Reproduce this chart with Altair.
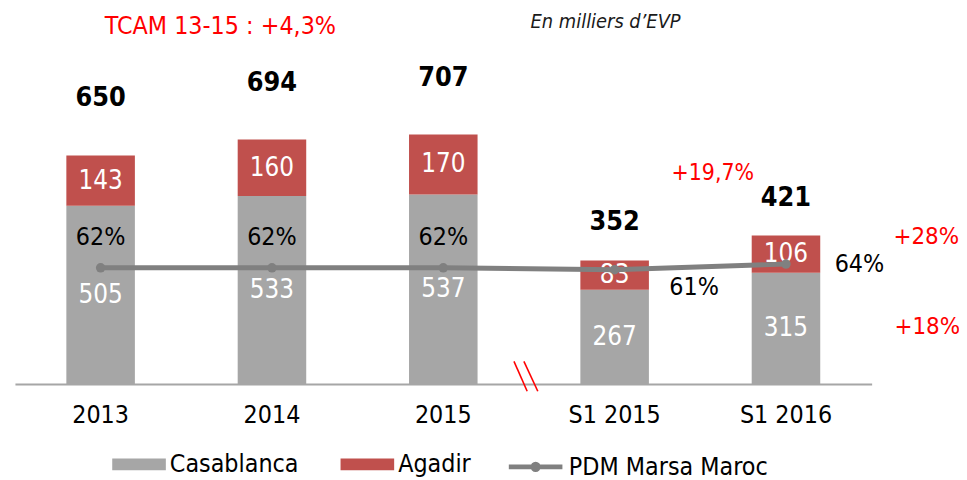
import altair as alt
import pandas as pd

# ---------------- data ----------------
periods = ["2013", "2014", "2015", "S1 2015", "S1 2016"]
casablanca = [505, 533, 537, 267, 315]
agadir = [143, 160, 170, 83, 106]
totals = [650, 694, 707, 352, 421]
pdm_share = [62, 62, 62, 61, 64]
pdm_labels = ["62%", "62%", "62%", "61%", "64%"]
period_kind = ["annuel", "annuel", "annuel", "semestre", "semestre"]

bar_series = ["Casablanca", "Agadir"]
bar_colors = ["#a6a6a6", "#c0504d"]
line_series = ["PDM Marsa Maroc"]
line_colors = ["#808080"]

title_tcam = "TCAM 13-15 : +4,3%"
unit_note = "En milliers d\u2019EVP"
growth_total = "+19,7%"
growth_agadir = "+28%"
growth_casa = "+18%"

FONT = "DejaVu Sans Condensed"

# ---------------- tables ----------------
rows = []
for p, c, a in zip(periods, casablanca, agadir):
    rows.append({"period": p, "series": "Casablanca", "value": c, "ord": 0,
                 "mid": c / 2})
    rows.append({"period": p, "series": "Agadir", "value": a, "ord": 1,
                 "mid": c + a / 2})
bar_df = pd.DataFrame(rows)

main_df = pd.DataFrame({
    "period": periods,
    "total": totals,
    "pdm": pdm_share,
    "pdm_label": pdm_labels,
    "kind": period_kind,
    "series": line_series * len(periods),
})

yscale = alt.Scale(domain=[0, 1044], nice=False, zero=True)
pscale = alt.Scale(domain=[0, 196.6], nice=False, zero=True)

X = alt.X(
    "period:N",
    sort=periods,
    scale=alt.Scale(domain=periods, paddingInner=0.6, paddingOuter=0.3),
    axis=alt.Axis(
        title=None, labelFont=FONT, labelFontSize=25, labelColor="black",
        labelPadding=19, ticks=False, domainColor="#a6a6a6", domainWidth=2,
        labelAngle=0, grid=False,
    ),
)

RECT_PATH = "M-1,-0.22H1V0.22H-1Z"
LINE_PATH = ("M-1,0H1M0.1,0A0.1,0.1,0,1,1,-0.1,0"
             "A0.1,0.1,0,1,1,0.1,0")

bar_legend = alt.Legend(
    title=None, orient="none", legendX=98, legendY=425,
    direction="horizontal", symbolSize=2916, symbolType=RECT_PATH,
    symbolStrokeWidth=0, symbolOpacity=1,
    labelFont=FONT, labelFontSize=25, labelColor="black", labelOffset=4,
    columnPadding=42, padding=0, labelLimit=400,
)
line_legend = alt.Legend(
    title=None, orient="none", legendX=495, legendY=425,
    direction="horizontal", symbolSize=2916, symbolType=LINE_PATH,
    symbolStrokeWidth=5, symbolOpacity=1,
    labelFont=FONT, labelFontSize=25, labelColor="black", labelOffset=4,
    padding=0, labelLimit=400,
)

bars = alt.Chart(bar_df).mark_bar().encode(
    x=X,
    y=alt.Y("value:Q", stack="zero", scale=yscale, axis=None),
    color=alt.Color("series:N", scale=alt.Scale(domain=bar_series, range=bar_colors),
                    legend=bar_legend),
    order=alt.Order("ord:Q"),
)

seg_labels = alt.Chart(bar_df).mark_text(
    font=FONT, fontSize=26, color="white", baseline="middle"
).encode(
    x=X,
    y=alt.Y("mid:Q", scale=yscale, axis=None),
    text="value:Q",
)

tot_annual = alt.Chart(main_df).transform_filter("datum.kind === 'annuel'").mark_text(
    font=FONT, fontSize=27, fontWeight="bold", color="black", baseline="middle", dy=-57
).encode(x=X, y=alt.Y("total:Q", scale=yscale, axis=None), text="total:Q")

tot_sem = alt.Chart(main_df).transform_filter("datum.kind === 'semestre'").mark_text(
    font=FONT, fontSize=27, fontWeight="bold", color="black", baseline="middle", dy=-38
).encode(x=X, y=alt.Y("total:Q", scale=yscale, axis=None), text="total:Q")

line = alt.Chart(main_df).mark_line(strokeWidth=5).encode(
    x=X, y=alt.Y("pdm:Q", scale=pscale, axis=None),
    stroke=alt.Stroke("series:N", scale=alt.Scale(domain=line_series, range=line_colors),
                      legend=line_legend),
)
pts = alt.Chart(main_df).mark_point(filled=True, size=90, color="#808080", opacity=1).encode(
    x=X, y=alt.Y("pdm:Q", scale=pscale, axis=None)
)

pct_annual = alt.Chart(main_df).transform_filter("datum.kind === 'annuel'").mark_text(
    font=FONT, fontSize=25, color="black", baseline="middle", dy=-31
).encode(x=X, y=alt.Y("pdm:Q", scale=pscale, axis=None), text="pdm_label:N")

pct_s15 = alt.Chart(main_df).transform_filter("datum.period === 'S1 2015'").mark_text(
    font=FONT, fontSize=25, color="black", baseline="middle", dx=80, dy=17
).encode(x=X, y=alt.Y("pdm:Q", scale=pscale, axis=None), text="pdm_label:N")

pct_s16 = alt.Chart(main_df).transform_filter("datum.period === 'S1 2016'").mark_text(
    font=FONT, fontSize=25, color="black", baseline="middle", dx=74, dy=0
).encode(x=X, y=alt.Y("pdm:Q", scale=pscale, axis=None), text="pdm_label:N")

note_df = pd.DataFrame({"t": [0]})

def annot(text, x, y, size, color, style="normal", baseline="middle"):
    return alt.Chart(note_df).mark_text(
        text=text, font=FONT, fontSize=size, color=color, fontStyle=style,
        baseline=baseline, align="center"
    ).encode(x=alt.value(x), y=alt.value(y))

a1 = annot(title_tcam, 207, 10.5, 25, "#ff0000")
a2 = annot(unit_note, 595, 12, 20, "#1a1a1a", "italic", "alphabetic")
a3 = annot(growth_total, 703, 158.5, 23, "#ff0000")
a4 = annot(growth_agadir, 918, 222.5, 24, "#ff0000")
a5 = annot(growth_casa, 919, 313.5, 24, "#ff0000")

brk1 = alt.Chart(note_df).mark_rule(color="#ff0000", strokeWidth=1.6).encode(
    x=alt.value(502.7), x2=alt.value(516), y=alt.value(348.3), y2=alt.value(378.3))
brk2 = alt.Chart(note_df).mark_rule(color="#ff0000", strokeWidth=1.6).encode(
    x=alt.value(512.7), x2=alt.value(526.7), y=alt.value(348.3), y2=alt.value(378.3))

chart = alt.layer(
    bars, seg_labels, line, pts, tot_annual, tot_sem,
    pct_annual, pct_s15, pct_s16, a1, a2, a3, a4, a5, brk1, brk2,
).resolve_scale(y="independent").properties(
    width=863, height=371,
    padding={"left": 7, "top": 6, "right": 88, "bottom": 95},
    autosize=alt.AutoSizeParams(type="none"),
).configure_view(stroke=None)

chart.save("out.html", embed_options={"renderer": "svg", "actions": False})
